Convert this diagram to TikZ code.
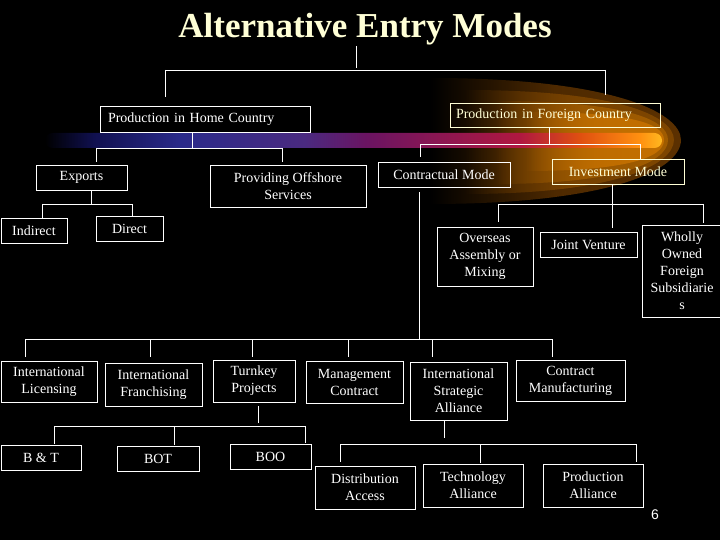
\documentclass[tikz,border=0pt]{standalone}
\usepackage{fontspec}
\setmainfont{Liberation Serif}
\setsansfont{Liberation Sans}
\usepackage{xcolor}
\usetikzlibrary{positioning,calc,fadings}

\definecolor{cream}{HTML}{FFFFD6}
\definecolor{glowA}{HTML}{5C3100}
\definecolor{glowB}{HTML}{7E4600}
\definecolor{glowC}{HTML}{A05C00}
\definecolor{glowD}{HTML}{C47000}
\definecolor{bandnavy}{HTML}{101050}
\definecolor{bandblue}{HTML}{2A2A8A}
\definecolor{bandviolet}{HTML}{4A2A80}
\definecolor{bandmagenta}{HTML}{6A1462}
\definecolor{bandred}{HTML}{B01840}
\definecolor{bandember}{HTML}{E05010}
\definecolor{bandorange}{HTML}{FF9010}
\definecolor{bandyellow}{HTML}{FFB820}

\pgfdeclarehorizontalshading{band}{100bp}{color(0bp)=(black); color(25bp)=(black);
  color(29bp)=(bandnavy); color(36bp)=(bandblue); color(46bp)=(bandviolet);
  color(51bp)=(bandmagenta); color(63.5bp)=(bandred); color(68.4bp)=(bandember);
  color(73.2bp)=(bandorange); color(75bp)=(bandyellow); color(100bp)=(bandyellow)}

\tikzfading[name=glowfade, left color=transparent!100, right color=transparent!0,
  middle color=transparent!15]

\tikzset{
  box/.style={draw=white, line width=0.8pt, text=white, align=center,
    font=\fontsize{14}{17}\selectfont, inner sep=0pt},
  warm/.style={draw=cream, text=cream},
  link/.style={white, line width=0.8pt},
  glow/.style={fill=#1, path fading=glowfade},
}

\begin{document}
\begin{tikzpicture}[x=1pt, y=-1pt]
    \fill[black] (0,0) rectangle (720,540);
    \useasboundingbox (0,0) rectangle (720,540);

    % Glow on the foreign side
    \path[glow=glowA]
      (430,78) .. controls (610,78) and (681,112) .. (681,140)
      .. controls (681,170) and (610,204) .. (430,204) -- cycle;
    \path[glow=glowB]
      (465,90) .. controls (615,90) and (674,115) .. (674,140)
      .. controls (674,165) and (615,194) .. (465,194) -- cycle;
    \path[glow=glowC]
      (495,101) .. controls (620,101) and (668,118) .. (668,140)
      .. controls (668,162) and (620,184) .. (495,184) -- cycle;
    \path[glow=glowD]
      (525,112) .. controls (625,112) and (664,122) .. (664,140)
      .. controls (664,158) and (625,171) .. (525,171) -- cycle;

    % Band
    \shade[shading=band, rounded corners=7.5pt] (45,133) rectangle (662,148);

    % Title
    \node[anchor=base, inner sep=0pt, text=cream, font=\bfseries\fontsize{35}{40}\selectfont]
      (title) at (365,38) {Alternative Entry Modes};

    % Home and foreign
    \node[box, text width=194pt, align=left, minimum width=210pt, minimum height=26pt]
      (home) at (205,119) {Production in Home Country};
    \node[box, warm, text width=198pt, align=left, minimum width=210pt, minimum height=24pt]
      (foreign) at (555,115) {Production in Foreign Country};

    \coordinate (top) at (356,70);
    \coordinate (topL) at (165,70);
    \coordinate (topR) at (605,70);
    \draw[link] (title.south -| top) -- ([yshift=2pt]top);
    \draw[link] (topL) -- (topR);
    \draw[link] (topL) -- ([yshift=9pt]home.north -| topL);
    \draw[link] (topR) -- ([yshift=8pt]foreign.north -| topR);

    % Home country
    \node[box, minimum width=91pt, minimum height=25pt] (exports) at (81.5,177.5) {Exports};
    \node[box, minimum width=156pt, minimum height=42pt] (offshore) at (288,186) {Providing Offshore\\Services};

    \coordinate (homeJ) at (192,148);
    \coordinate (homeL) at (96,148);
    \coordinate (homeR) at (282,148);
    \draw[link] (home.south -| homeJ) -- (homeJ);
    \draw[link] (homeL) -- (homeR);
    \draw[link] (homeL) -- ([yshift=3pt]exports.north -| homeL);
    \draw[link] (homeR) -- ([yshift=3pt]offshore.north -| homeR);

    % Exports
    \node[box, minimum width=66pt, minimum height=25pt] (indirect) at (34,230.5) {Indirect};
    \node[box, minimum width=67pt, minimum height=25pt] (direct) at (129.5,228.5) {Direct};

    \coordinate (expJ) at (91,204);
    \coordinate (expL) at (42,204);
    \coordinate (expR) at (132,204);
    \draw[link] (exports.south -| expJ) -- (expJ);
    \draw[link] (expL) -- (expR);
    \draw[link] (expL) -- (indirect.north -| expL);
    \draw[link] (expR) -- (direct.north -| expR);

    % Foreign country
    \node[box, minimum width=132pt, minimum height=25pt] (contract) at (444,174.5) {Contractual Mode};
    \node[box, warm, minimum width=132pt, minimum height=25pt] (invest) at (618,171.5) {Investment Mode};

    \coordinate (forJ) at (549,144);
    \coordinate (forL) at (420,144);
    \coordinate (forR) at (640,144);
    \draw[link] (foreign.south -| forJ) -- (forJ);
    \draw[link] (forL) -- (forR);
    \draw[link] (forL) -- ([yshift=5pt]contract.north -| forL);
    \draw[link] (forR) -- (invest.north -| forR);

    % Investment mode
    \node[box, minimum width=96pt, minimum height=59pt] (assembly) at (485,256.5) {Overseas\\Assembly or\\Mixing};
    \node[box, minimum width=97pt, minimum height=25pt] (venture) at (588.5,244.5) {Joint Venture};
    \node[box, minimum width=80pt, minimum height=92pt] (wholly) at (682,271) {Wholly\\Owned\\Foreign\\Subsidiarie\\s};

    \coordinate (invJ) at (612,204);
    \coordinate (invL) at (498,204);
    \coordinate (invR) at (703,204);
    \draw[link] (invest.south -| invJ) -- ([yshift=4pt]venture.north -| invJ);
    \draw[link] (invL) -- (invR);
    \draw[link] (invL) -- ([yshift=5pt]assembly.north -| invL);
    \draw[link] (invR) -- ([yshift=2pt]wholly.north -| invR);

    % Contractual mode
    \node[box, minimum width=96pt, minimum height=41pt] (licensing) at (49,381.5) {International\\Licensing};
    \node[box, minimum width=97pt, minimum height=43pt] (franchising) at (153.5,384.5) {International\\Franchising};
    \node[box, minimum width=82pt, minimum height=42pt] (turnkey) at (254,381) {Turnkey\\Projects};
    \node[box, minimum width=97pt, minimum height=42pt] (management) at (354.5,382) {Management\\Contract};
    \node[box, minimum width=97pt, minimum height=58pt] (strategic) at (458.5,391) {International\\Strategic\\Alliance};
    \node[box, minimum width=109pt, minimum height=41pt] (manufacturing) at (570.5,380.5) {Contract\\Manufacturing};

    \coordinate (conJ) at (419,339);
    \coordinate (conA) at (25,339);
    \coordinate (conB) at (150,339);
    \coordinate (conC) at (252,339);
    \coordinate (conD) at (348,339);
    \coordinate (conE) at (432,339);
    \coordinate (conF) at (552,339);
    \draw[link] ([yshift=-5pt]contract.south -| conJ) -- (conJ);
    \draw[link] (conA) -- (conF);
    \draw[link] (conA) -- ([yshift=4pt]licensing.north -| conA);
    \draw[link] (conB) -- ([yshift=6pt]franchising.north -| conB);
    \draw[link] (conC) -- ([yshift=3pt]turnkey.north -| conC);
    \draw[link] (conD) -- ([yshift=4pt]management.north -| conD);
    \draw[link] (conE) -- ([yshift=5pt]strategic.north -| conE);
    \draw[link] (conF) -- ([yshift=3pt]manufacturing.north -| conF);

    % Turnkey projects
    \node[box, minimum width=80pt, minimum height=25pt] (bt) at (41,457.5) {B \& T};
    \node[box, minimum width=82pt, minimum height=25pt] (bot) at (158,458.5) {BOT};
    \node[box, minimum width=81pt, minimum height=25pt] (boo) at (270.5,456.5) {BOO};

    \coordinate (tkJ) at (258,426);
    \coordinate (tkL) at (54,426);
    \coordinate (tkM) at (174,426);
    \coordinate (tkR) at (305,426);
    \draw[link] ([yshift=-4pt]turnkey.south -| tkJ) -- ([yshift=3pt]tkJ);
    \draw[link] (tkL) -- (tkR);
    \draw[link] (tkL) -- ([yshift=1pt]bt.north -| tkL);
    \draw[link] (tkM) -- ([yshift=1pt]bot.north -| tkM);
    \draw[link] (tkR) -- ([yshift=1pt]boo.north -| tkR);

    % Strategic alliance
    \node[box, minimum width=100pt, minimum height=43pt] (distribution) at (365,487.5) {Distribution\\Access};
    \node[box, minimum width=100pt, minimum height=43pt] (technology) at (473,485.5) {Technology\\Alliance};
    \node[box, minimum width=100pt, minimum height=43pt] (production) at (593,485.5) {Production\\Alliance};

    \coordinate (saJ) at (444,444);
    \coordinate (saL) at (340,444);
    \coordinate (saM) at (480,444);
    \coordinate (saR) at (636,444);
    \draw[link] (strategic.south -| saJ) -- ([yshift=6pt]saJ);
    \draw[link] (saL) -- (saR);
    \draw[link] (saL) -- ([yshift=4pt]distribution.north -| saL);
    \draw[link] (saM) -- ([yshift=1pt]technology.north -| saM);
    \draw[link] (saR) -- ([yshift=2pt]production.north -| saR);

    % Slide number
    \node[text=white, font=\sffamily\fontsize{14}{17}\selectfont] (page) at (655,515) {6};
\end{tikzpicture}
\end{document}
